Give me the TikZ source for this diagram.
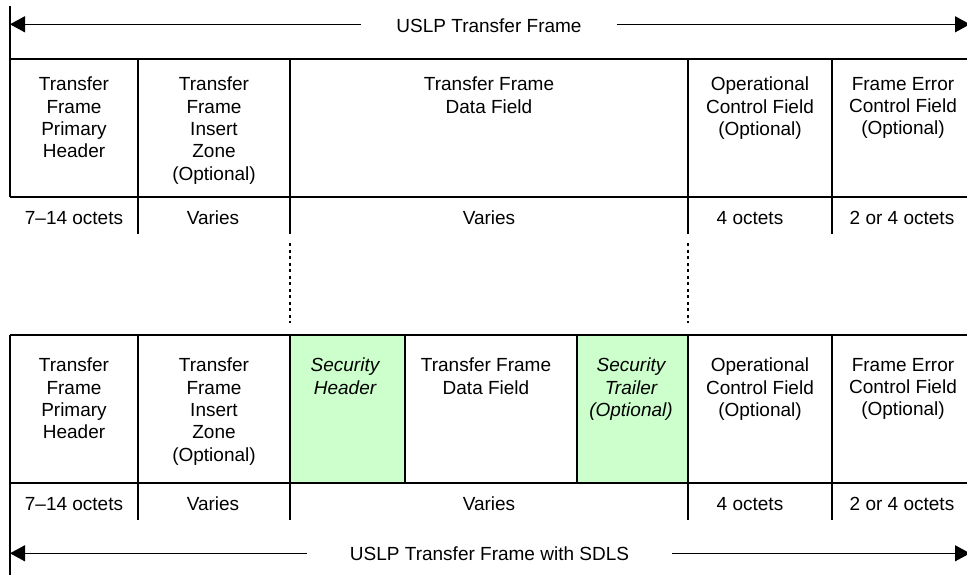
\documentclass[tikz,border=0pt]{standalone}
\usepackage{fontspec}
\setmainfont{Liberation Sans}
\usetikzlibrary{arrows.meta}
\definecolor{secgreen}{RGB}{204,255,204}
\tikzset{
  frameline/.style={black, line width=1.3pt},
  span/.style={black, line width=1.3pt, -{Triangle[length=15pt,width=16pt]}},
  field/.style={anchor=north, align=center, inner sep=0pt, font=\fontsize{19}{22.3}\selectfont},
  octets/.style={anchor=base, inner sep=0pt, font=\fontsize{19}{22.3}\selectfont},
  spantitle/.style={anchor=base, inner xsep=#1, inner ysep=0pt, font=\fontsize{19}{22.3}\selectfont},
}

\begin{document}
\begin{tikzpicture}[x=1pt, y=-1pt]
\useasboundingbox (0,0) rectangle (967,578);
% plain USLP frame
\coordinate (topL) at (10,24.3);
\coordinate (topR) at (970,24.3);
\node[spantitle=35pt] (toptitle) at (489,32.3) {USLP Transfer Frame};
\draw[span] (toptitle.west |- topL) -- (topL);
\draw[span] (toptitle.east |- topR) -- (topR);
\draw[frameline] (10,6) --++(0,191);
\draw[frameline] (10,59) -- (970,59);
\draw[frameline] (10,197) -- (970,197);
\foreach \x in {138,290,688,832} {
 \draw[frameline] (\x,59) -- (\x,234);
}
\node[field] (tph) at (74,77) {Transfer\\Frame\\Primary\\Header};
\node[field] (tiz) at (214,77) {Transfer\\Frame\\Insert\\Zone\\(Optional)};
\node[field] (tdf) at (489,77) {Transfer Frame\\Data Field};
\node[field] (ocf) at (760,77) {Operational\\Control Field\\(Optional)};
\node[field] (fecf) at (903,77) {Frame Error\\Control Field\\(Optional)};
\node[octets] (tphlen) at (74,224.3) {7–14 octets};
\node[octets] (tizlen) at (213,224.3) {Varies};
\node[octets] (tdflen) at (489,224.3) {Varies};
\node[octets] (ocflen) at (750,224.3) {4 octets};
\node[octets] (fecflen) at (902,224.3) {2 or 4 octets};
% dotted guides
\foreach \x in {290,688} {
 \draw[black, line width=1.3pt, dash pattern=on 3pt off 3.5pt] (\x,243) -- (\x,323);
}
% USLP frame with SDLS
\fill[secgreen] (290,335) rectangle (405,483);
\fill[secgreen] (577,335) rectangle (688,483);
\draw[frameline] (10,335) --++(0,240);
\draw[frameline] (10,335) -- (970,335);
\draw[frameline] (10,483) -- (970,483);
\foreach \x in {138,290,688,832} {
 \draw[frameline] (\x,335) -- (\x,520);
}
\foreach \x in {405,577} {
 \draw[frameline] (\x,335) -- (\x,483);
}
\node[field] (stph) at (74,358) {Transfer\\Frame\\Primary\\Header};
\node[field] (stiz) at (214,358) {Transfer\\Frame\\Insert\\Zone\\(Optional)};
\node[field, font=\fontsize{19}{22.3}\selectfont\itshape] (sech) at (345,358) {Security\\Header};
\node[field] (stdf) at (486,358) {Transfer Frame\\Data Field};
\node[field, font=\fontsize{19}{22.3}\selectfont\itshape] (sect) at (631,358) {Security\\Trailer\\(Optional)};
\node[field] (socf) at (760,358) {Operational\\Control Field\\(Optional)};
\node[field] (sfecf) at (903,358) {Frame Error\\Control Field\\(Optional)};
\node[octets] (stphlen) at (74,510) {7–14 octets};
\node[octets] (stizlen) at (213,510) {Varies};
\node[octets] (sdatalen) at (489,510) {Varies};
\node[octets] (socflen) at (750,510) {4 octets};
\node[octets] (sfecflen) at (902,510) {2 or 4 octets};
\coordinate (botL) at (10,553.3);
\coordinate (botR) at (970,553.3);
\node[spantitle=43pt] (bottitle) at (489.5,560) {USLP Transfer Frame with SDLS};
\draw[span] (bottitle.west |- botL) -- (botL);
\draw[span] (bottitle.east |- botR) -- (botR);
\end{tikzpicture}
\end{document}
